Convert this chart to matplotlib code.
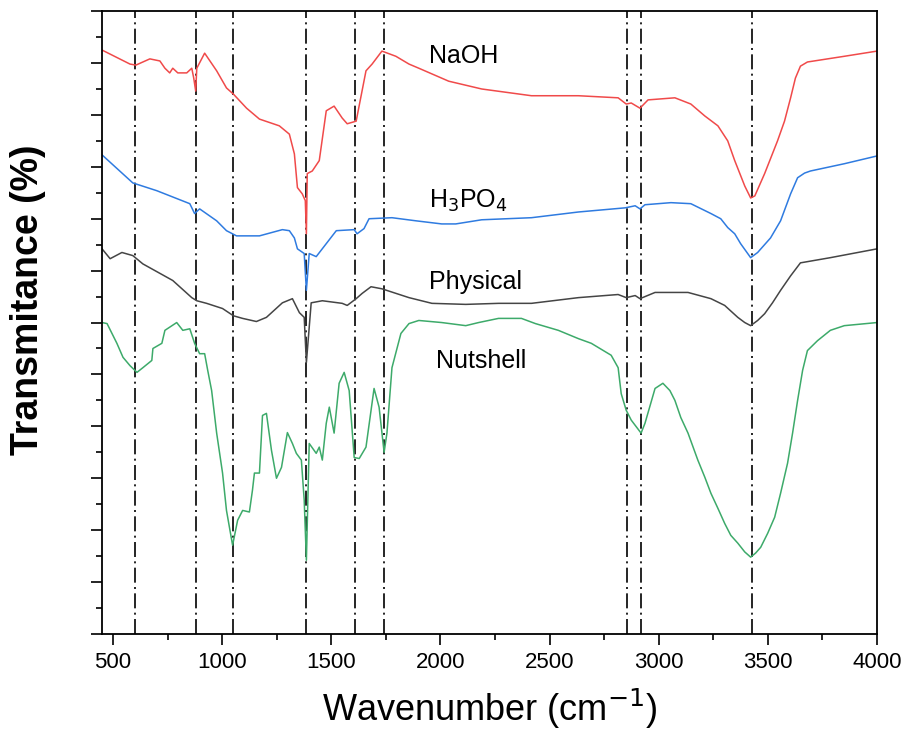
import numpy as np
import matplotlib
matplotlib.use("Agg")
import matplotlib.pyplot as plt
from matplotlib.ticker import MultipleLocator

plt.rcParams["font.family"] = ["Liberation Sans", "DejaVu Sans"]

# FTIR spectra (wavenumber in cm-1, transmittance offset for stacking)
naoh_wn = [450, 578, 605, 669, 715, 738, 760, 774, 797, 838, 861, 870, 879, 884,
           920, 975, 1020, 1052, 1112, 1171, 1262, 1308, 1331, 1345, 1367, 1381,
           1386, 1390, 1413, 1445, 1477, 1513, 1550, 1573, 1614, 1659, 1687, 1732,
           1796, 1856, 1901, 2038, 2189, 2417, 2632, 2814, 2851, 2874, 2914, 2951,
           3074, 3147, 3211, 3271, 3316, 3348, 3394, 3421, 3440, 3485, 3544, 3576,
           3604, 3626, 3649, 3681, 3850, 4000]
naoh_t = [11.25, 10.98, 10.96, 11.08, 11.04, 10.90, 10.81, 10.90, 10.81, 10.81,
          10.90, 10.71, 10.46, 10.90, 11.19, 10.85, 10.52, 10.40, 10.13, 9.92,
          9.79, 9.63, 9.25, 8.60, 8.48, 8.35, 7.71, 8.87, 8.92, 9.12, 10.08, 10.17,
          9.94, 9.83, 9.88, 10.85, 10.98, 11.23, 11.13, 10.98, 10.90, 10.65, 10.50,
          10.37, 10.37, 10.33, 10.21, 10.23, 10.13, 10.29, 10.33, 10.21, 9.98,
          9.79, 9.50, 9.12, 8.63, 8.40, 8.44, 8.87, 9.50, 9.88, 10.33, 10.71,
          10.94, 11.02, 11.13, 11.23]

h3po4_wn = [450, 591, 701, 852, 874, 897, 975, 1020, 1066, 1171, 1276, 1308,
            1331, 1345, 1376, 1386, 1399, 1431, 1477, 1523, 1605, 1618, 1650,
            1673, 1778, 1888, 2006, 2070, 2189, 2417, 2632, 2846, 2892, 2914,
            2937, 3056, 3147, 3239, 3284, 3316, 3348, 3375, 3421, 3453, 3512,
            3558, 3604, 3636, 3668, 3695, 3850, 4000]
h3po4_t = [9.23, 8.69, 8.54, 8.29, 8.10, 8.19, 7.96, 7.77, 7.67, 7.67, 7.79,
           7.77, 7.63, 7.42, 7.33, 6.62, 7.33, 7.27, 7.52, 7.77, 7.79, 7.71,
           7.81, 8.00, 8.02, 7.96, 7.90, 7.90, 7.98, 8.02, 8.13, 8.21, 8.25,
           8.19, 8.27, 8.31, 8.29, 8.10, 8.00, 7.83, 7.71, 7.52, 7.25, 7.35,
           7.63, 7.96, 8.48, 8.79, 8.88, 8.92, 9.06, 9.21]

phys_wn = [450, 487, 541, 591, 637, 774, 861, 884, 929, 1002, 1052, 1094, 1157,
           1203, 1276, 1322, 1354, 1376, 1386, 1408, 1459, 1550, 1573, 1614,
           1641, 1682, 1732, 1856, 1961, 2116, 2267, 2417, 2632, 2814, 2851,
           2892, 2914, 2983, 3134, 3239, 3302, 3362, 3394, 3421, 3453, 3485,
           3521, 3558, 3604, 3649, 3786, 4000]
phys_t = [7.42, 7.23, 7.35, 7.29, 7.13, 6.81, 6.48, 6.42, 6.37, 6.27, 6.13,
          6.08, 6.02, 6.10, 6.38, 6.46, 6.19, 6.10, 5.23, 6.38, 6.42, 6.37, 6.33,
          6.46, 6.56, 6.69, 6.65, 6.48, 6.37, 6.35, 6.37, 6.37, 6.48, 6.54, 6.48,
          6.52, 6.46, 6.58, 6.58, 6.46, 6.33, 6.10, 6.00, 5.94, 6.04, 6.17,
          6.38, 6.62, 6.90, 7.15, 7.25, 7.42]

nut_wn = [450, 473, 518, 546, 578, 610, 637, 678, 683, 724, 738, 792, 820, 852,
          874, 897, 920, 934, 952, 975, 1002, 1020, 1048, 1071, 1094, 1125, 1139,
          1148, 1171, 1185, 1203, 1226, 1249, 1272, 1299, 1322, 1340, 1363, 1376,
          1386, 1399, 1431, 1445, 1459, 1477, 1491, 1513, 1536, 1559, 1582, 1605,
          1628, 1659, 1696, 1719, 1742, 1755, 1778, 1819, 1856, 1901, 2006, 2116,
          2175, 2266, 2371, 2435, 2540, 2632, 2691, 2782, 2814, 2828, 2851, 2874,
          2919, 2937, 2983, 3019, 3051, 3074, 3101, 3134, 3179, 3211, 3239, 3271,
          3302, 3330, 3362, 3394, 3421, 3444, 3467, 3499, 3531, 3558, 3590, 3613,
          3636, 3659, 3681, 3727, 3786, 3850, 4000]
nut_t = [6.00, 5.98, 5.60, 5.33, 5.17, 5.04, 5.13, 5.27, 5.50, 5.60, 5.85, 6.00,
         5.85, 5.88, 5.60, 5.40, 5.40, 5.08, 4.69, 3.87, 3.10, 2.38, 1.71, 2.19,
         2.38, 2.35, 2.77, 3.10, 3.10, 4.21, 4.25, 3.54, 3.00, 3.21, 3.88, 3.67,
         3.48, 3.35, 2.58, 1.42, 3.67, 3.48, 3.60, 3.35, 4.06, 4.37, 3.87, 4.83,
         5.04, 4.69, 3.40, 3.38, 3.60, 4.73, 4.37, 3.50, 3.87, 5.13, 5.79, 5.98,
         6.04, 6.00, 5.94, 6.00, 6.08, 6.08, 5.98, 5.85, 5.69, 5.60, 5.37, 5.13,
         4.63, 4.31, 4.12, 3.87, 4.06, 4.73, 4.83, 4.69, 4.50, 4.17, 3.87, 3.35,
         3.02, 2.71, 2.42, 2.13, 1.90, 1.75, 1.58, 1.48, 1.56, 1.67, 1.94, 2.25,
         2.71, 3.29, 3.87, 4.50, 5.08, 5.46, 5.65, 5.85, 5.94, 6.00]

# band positions marked with dash-dot guides
bands = [600, 880, 1050, 1385, 1610, 1740, 2855, 2920, 3425]

series = [
    ("NaOH", naoh_wn, naoh_t, "#f04a4a"),
    ("H$_3$PO$_4$", h3po4_wn, h3po4_t, "#2f7be0"),
    ("Physical", phys_wn, phys_t, "#454545"),
    ("Nutshell", nut_wn, nut_t, "#3daa6a"),
]
# where each sample name sits (x, baseline y)
label_pos = [(1947, 11.0), (1947, 8.21), (1947, 6.65), (1979, 5.13)]

fig = plt.figure(figsize=(9.07, 7.42), dpi=100)
ax = fig.add_axes([0.1125, 0.1456, 0.8545, 0.8394])

for x in bands:
    ax.axvline(x, color="black", lw=1.2, ls=(0, (9, 2.6, 1.2, 2.6)), zorder=1)

for (name, wn, t, color), (lx, ly) in zip(series, label_pos):
    ax.plot(wn, t, color=color, lw=1.1, zorder=2)
    ax.text(lx, ly, name, fontsize=18, ha="left", va="baseline")

ax.set_xlim(450, 4000)
ax.set_ylim(0, 12)
ax.xaxis.set_major_locator(MultipleLocator(500))
ax.xaxis.set_minor_locator(MultipleLocator(250))
ax.yaxis.set_major_locator(MultipleLocator(1))
ax.yaxis.set_minor_locator(MultipleLocator(0.5))
ax.tick_params(which="major", length=8, width=1.2, labelsize=16, pad=5)
ax.tick_params(which="minor", length=4, width=1.2)
ax.tick_params(axis="y", labelleft=False)
for s in ax.spines.values():
    s.set_linewidth(1.3)

ax.set_xlabel("Wavenumber (cm$^{-1}$)", fontsize=26, labelpad=10)
ax.set_ylabel("Transmitance (%)", fontsize=27, fontweight="bold")
ax.yaxis.set_label_coords(-0.072, 0.536)

fig.savefig("out.png", dpi=100)
